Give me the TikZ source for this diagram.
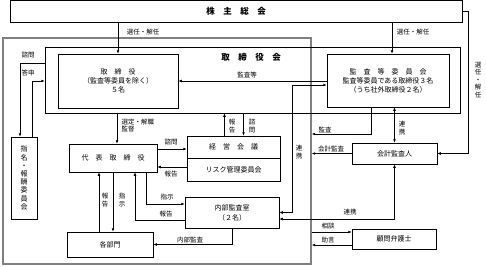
\documentclass[tikz,border=0pt]{standalone}
\usepackage{fontspec}
\setmainfont{Noto Sans CJK JP}
\usetikzlibrary{arrows.meta}

\begin{document}
\begin{tikzpicture}[
    x=1pt, y=-1pt,
    >={Latex[length=3.4pt,width=2.8pt]},
    box/.style={
        draw, line width=0.7pt, align=center, inner sep=0pt,
        font=\fontsize{7}{9}\selectfont
    },
    lbl/.style={font=\fontsize{6.5}{7.6}\selectfont, inner sep=0.5pt, align=center},
    arr/.style={->, line width=0.6pt},
    arrs/.style={<->, line width=0.6pt},
]
\useasboundingbox (0,0) rectangle (486,266);

%% Shareholders and company frame
\node[box, minimum width=452pt, minimum height=22pt,
      font=\fontsize{8.5}{10}\selectfont\bfseries] (meeting) at (236,11)
    {株　主　総　会};
\node[draw=gray, line width=1.6pt, minimum width=308pt, minimum height=226pt]
    (company) at (157,151) {};

%% Board
\node[box, minimum width=415pt, minimum height=66pt] (board) at (252.5,80) {};
\node[font=\fontsize{8.5}{10}\selectfont\bfseries] (boardlbl) at (251,57)
    {取　締　役　会};
\node[box, minimum width=120pt, minimum height=54pt] (dir) at (118,81)
    {取　締　役\\（監査等委員を除く）\\５名};
\node[box, minimum width=122pt, minimum height=53pt] (audit) at (388,80.5)
    {監　査　等　委　員　会\\監査等委員である取締役３名\\（うち社外取締役２名）};

%% Executive side
\node[box, minimum width=26pt, minimum height=82pt,
      font=\fontsize{7}{8.2}\selectfont] (nom) at (24,178)
    {指\\名\\・\\報\\酬\\委\\員\\会};
\node[box, minimum width=88pt, minimum height=28pt] (rep) at (113,158)
    {代　表　取　締　役};
\node[box, minimum width=93pt, minimum height=22pt] (mgmt) at (233.5,147)
    {経　営　会　議};
\node[box, minimum width=93pt, minimum height=23pt] (risk) at (233.5,169.5)
    {リスク管理委員会};
\node[box, minimum width=94pt, minimum height=31pt,
      font=\fontsize{7}{10}\selectfont] (ia) at (232,212.5)
    {内部監査室\\（２名）};
\node[box, minimum width=86pt, minimum height=25pt] (dept) at (110,244.5)
    {各部門};

%% Outside parties
\node[box, minimum width=85pt, minimum height=21pt] (ca) at (394.5,153.5)
    {会計監査人};
\node[box, minimum width=84pt, minimum height=20pt] (law) at (394,239)
    {顧問弁護士};

%% Appointment
\draw[arr] (dir.north |- meeting.south) -- (dir.north);
\node[lbl] at (143,32) {選任・解任};
\draw[arr] ([xshift=4pt]audit.north |- meeting.south) -- ([xshift=4pt]audit.north);
\node[lbl] at (413,32) {選任・解任};
\draw[arr] (meeting.east) -- ++(6,0) |- (ca.east);
\node[lbl] at (478,80) {選\\任\\・\\解\\任};

%% Audit committee links
\draw[arr] (audit.west |- dir.east) -- (dir.east);
\node[lbl] at (247,75) {監査等};
\draw[arrs] (ia.east) -| (292,85) -- (audit.west |- 0,85);
\node[lbl] at (299,152) {連\\携};
\draw[arr] ([xshift=-17pt]audit.south) |- (company.east |- 0,134);
\node[lbl] at (325,130) {監査};
\draw[arrs] (ca.north) -- (ca.north |- audit.south);
\node[lbl] at (402,128) {連\\携};

%% Accounting auditor and lawyer
\draw[arr] (ca.west) -- (ca.west -| company.east);
\node[lbl] at (331,149) {会計監査};
\draw[arrs] (ca.south) |- (ia.east |- 0,219);
\node[lbl] at (350,212) {連携};
\draw[arr] (company.east |- 0,232) -- (law.west |- 0,232);
\node[lbl] at (328,226) {相談};
\draw[arr] (law.west |- 0,245) -- (company.east |- 0,245);
\node[lbl] at (328,240) {助言};

%% Nomination committee
\draw[arr] (board.west |- 0,63) -| ([xshift=-4pt]nom.north);
\node[lbl] at (28,55) {諮問};
\draw[arr] ([xshift=8pt]nom.north) |- (board.west |- 0,81);
\node[lbl] at (28,73) {答申};

%% Board to executives
\draw[arr] ([xshift=4pt]rep.north |- board.south) -- ([xshift=4pt]rep.north);
\node[lbl, anchor=north west, align=left] at (121,118) {選定・解職\\監督};
\draw[arr] ([xshift=-9pt]mgmt.north) -- ([xshift=-9pt]mgmt.north |- board.south);
\node[lbl] at (232,126) {報\\告};
\draw[arr] ([xshift=10pt]mgmt.north |- board.south) -- ([xshift=10pt]mgmt.north);
\node[lbl] at (252,126) {諮\\問};

%% Representative director
\draw[arr] (rep.east |- 0,149) -- (mgmt.west |- 0,149);
\node[lbl] at (171,142) {諮問};
\draw[arr] (risk.west |- 0,167) -- (rep.east |- 0,167);
\node[lbl] at (171,174) {報告};
\draw[arr] (rep.south -| 146,0) |- (ia.west |- 0,204);
\node[lbl] at (167,197) {指示};
\draw[arr] (ia.west |- 0,220) -| (rep.south -| 135,0);
\node[lbl] at (166,214) {報告};
\draw[arr] (dept.north -| 99,0) -- (rep.south -| 99,0);
\node[lbl] at (105,200) {報\\告};
\draw[arr] (rep.south -| 113,0) -- (dept.north -| 113,0);
\node[lbl] at (122,200) {指\\示};
\draw[arr] (ia.south) |- (dept.east);
\node[lbl] at (190,240) {内部監査};

\end{tikzpicture}
\end{document}
